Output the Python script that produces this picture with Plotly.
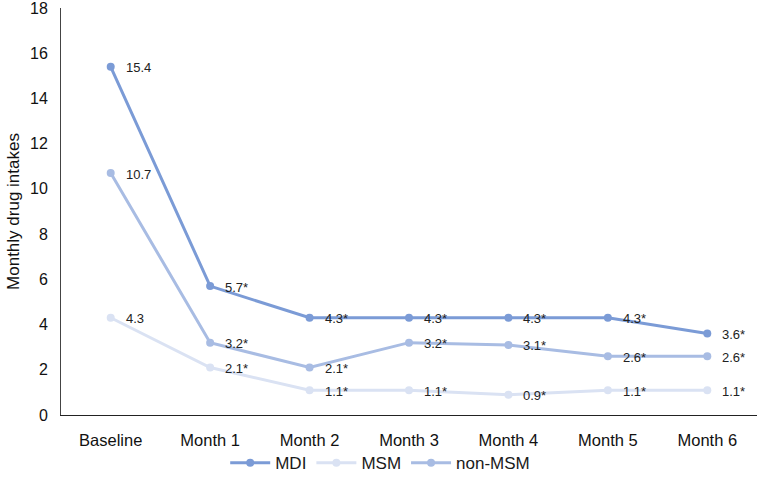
import plotly.graph_objects as go

categories = ["Baseline", "Month 1", "Month 2", "Month 3", "Month 4", "Month 5", "Month 6"]
mdi = [15.4, 5.7, 4.3, 4.3, 4.3, 4.3, 3.6]
msm = [4.3, 2.1, 1.1, 1.1, 0.9, 1.1, 1.1]
non_msm = [10.7, 3.2, 2.1, 3.2, 3.1, 2.6, 2.6]
mdi_labels = ["15.4", "5.7*", "4.3*", "4.3*", "4.3*", "4.3*", "3.6*"]
msm_labels = ["4.3", "2.1*", "1.1*", "1.1*", "0.9*", "1.1*", "1.1*"]
non_msm_labels = ["10.7", "3.2*", "2.1*", "3.2*", "3.1*", "2.6*", "2.6*"]

series = [
    ("MDI", mdi, mdi_labels, "#7B9BD6"),
    ("MSM", msm, msm_labels, "#DAE2F3"),
    ("non-MSM", non_msm, non_msm_labels, "#A8BCE3"),
]

FONT = "Liberation Sans, Arial, sans-serif"

fig = go.Figure()
annotations = []
for name, vals, labels, color in series:
    fig.add_trace(go.Scatter(
        x=categories, y=vals, name=name, mode="lines+markers",
        line=dict(color=color, width=3),
        marker=dict(color=color, size=8),
        cliponaxis=False,
    ))
    for c, v, t in zip(categories, vals, labels):
        annotations.append(dict(
            x=c, y=v, xref="x", yref="y", text=t, showarrow=False,
            xanchor="left", yanchor="middle", xshift=13, yshift=-1,
            font=dict(size=13, color="#222222", family=FONT),
        ))

fig.update_layout(
    width=765, height=484,
    margin=dict(l=61, r=8, t=8, b=69, autoexpand=False),
    plot_bgcolor="white", paper_bgcolor="white",
    font=dict(family=FONT, color="#111111"),
    showlegend=True,
    annotations=annotations,
    legend=dict(orientation="h", xref="container", yref="container",
                x=0.497, xanchor="center", y=0.043, yanchor="middle",
                bgcolor="rgba(0,0,0,0)",
                font=dict(size=17, color="#1a1a1a"), itemwidth=40),
    xaxis=dict(
        type="category", showgrid=False, showline=True, linecolor="#222222", linewidth=1,
        tickfont=dict(size=16.5), ticks="outside", ticklen=10, tickcolor="rgba(0,0,0,0)",
        range=[-0.5, 6.5], automargin=False,
    ),
    yaxis=dict(
        range=[0, 18], tickvals=[0, 2, 4, 6, 8, 10, 12, 14, 16, 18],
        showgrid=False, showline=True, linecolor="#444444",
        linewidth=1, tickfont=dict(size=16), ticks="outside", ticklen=9,
        tickcolor="rgba(0,0,0,0)", zeroline=False, automargin=False,
        ticklabeloverflow="allow",
        title=dict(text="Monthly drug intakes", font=dict(size=17), standoff=6),
    ),
)

fig.write_html("out.html", config={"displayModeBar": False},
               post_script="document.body.style.margin='0';")
